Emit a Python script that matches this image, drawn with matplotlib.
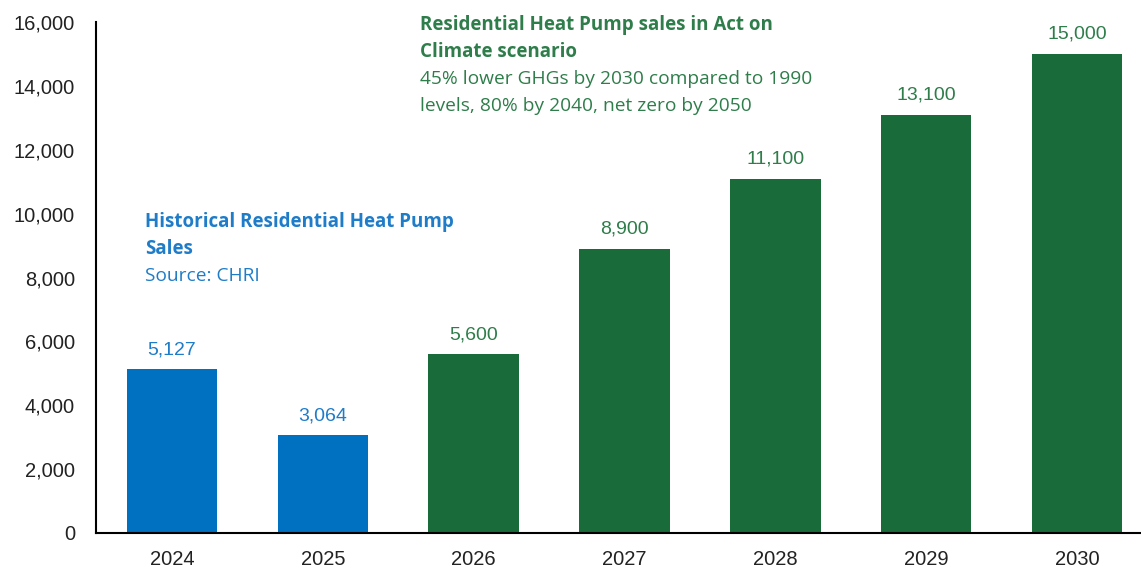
import matplotlib.pyplot as plt
from matplotlib.ticker import FuncFormatter

years = ["2024", "2025", "2026", "2027", "2028", "2029", "2030"]
sales = [5127, 3064, 5600, 8900, 11100, 13100, 15000]
historical = [True, True, False, False, False, False, False]

blue = "#0070C0"
green = "#196B3A"
blue_txt = "#1F7CC8"
green_txt = "#2E7D4A"

fig = plt.figure(figsize=(11.41, 5.69), dpi=100)
ax = fig.add_axes([0.0841, 0.0633, 0.9159, 0.898])

colors = [blue if h else green for h in historical]
bars = ax.bar(range(len(years)), sales, width=0.6, color=colors)

for b, v, h in zip(bars, sales, historical):
    ax.annotate(f"{v:,}", (b.get_x() + b.get_width() / 2, v),
                xytext=(0, 8), textcoords="offset points",
                ha="center", va="bottom", fontsize=14,
                color=blue_txt if h else green_txt, family="Liberation Sans")

ax.set_xlim(-0.504, 6.425)
ax.set_ylim(0, 16000)
ax.set_xticks(range(len(years)))
ax.set_xticklabels(years)
ax.set_yticks(range(0, 16001, 2000))
ax.yaxis.set_major_formatter(FuncFormatter(lambda v, p: f"{int(v):,}"))
ax.tick_params(length=0, labelsize=14.5, colors="#222222")
ax.tick_params(axis="x", pad=12)
ax.tick_params(axis="y", pad=15)
for lbl in ax.get_xticklabels() + ax.get_yticklabels():
    lbl.set_family("Liberation Sans")

for s in ["top", "right"]:
    ax.spines[s].set_visible(False)
for s in ["left", "bottom"]:
    ax.spines[s].set_linewidth(1.5)
    ax.spines[s].set_color("black")

# annotation blocks
fig.text(145 / 1141, 1 - 222 / 569, "Historical Residential Heat Pump", color=blue_txt,
         fontsize=13.5, fontweight="bold", family="Open Sans", va="center")
fig.text(145 / 1141, 1 - 249 / 569, "Sales", color=blue_txt,
         fontsize=13.5, fontweight="bold", family="Open Sans", va="center")
fig.text(145 / 1141, 1 - 276 / 569, "Source: CHRI", color=blue_txt,
         fontsize=13.8, family="Open Sans", va="center")

fig.text(420 / 1141, 1 - 25 / 569, "Residential Heat Pump sales in Act on", color=green_txt,
         fontsize=13.5, fontweight="bold", family="Open Sans", va="center")
fig.text(420 / 1141, 1 - 52 / 569, "Climate scenario", color=green_txt,
         fontsize=13.5, fontweight="bold", family="Open Sans", va="center")
fig.text(420 / 1141, 1 - 79 / 569, "45% lower GHGs by 2030 compared to 1990", color=green_txt,
         fontsize=13.8, family="Open Sans", va="center")
fig.text(420 / 1141, 1 - 106 / 569, "levels, 80% by 2040, net zero by 2050", color=green_txt,
         fontsize=13.8, family="Open Sans", va="center")

fig.savefig("out.png", dpi=100)
